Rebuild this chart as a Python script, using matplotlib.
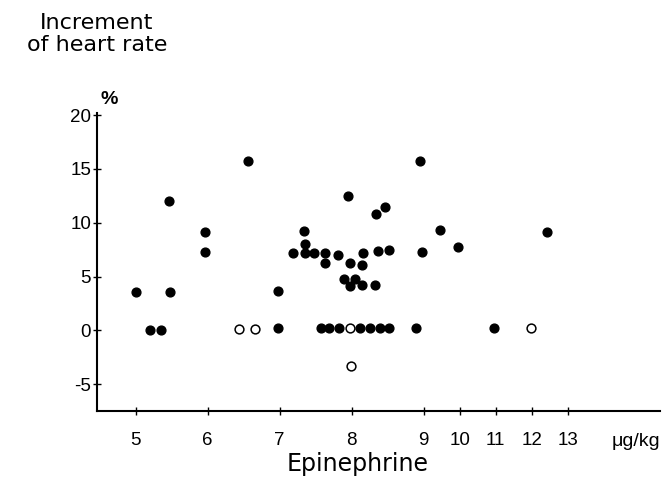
import matplotlib
matplotlib.use("Agg")
import matplotlib.pyplot as plt
import numpy as np

plt.rcParams['font.family'] = ['Liberation Sans', 'DejaVu Sans']

# filled dots: epinephrine dose (ug/kg) and heart rate increment (%)
dose_filled = [5.0, 5.2, 5.35, 5.47, 5.48, 5.96, 5.97, 6.56, 6.98, 6.98,
               7.34, 7.35, 7.19, 7.35, 7.48, 7.63, 7.63, 7.81, 7.95, 7.98,
               8.15, 8.16, 8.36, 8.46, 8.34, 8.52, 8.95, 8.97, 9.45, 9.94,
               7.90, 7.98, 8.05, 8.15, 8.32,
               7.57, 7.69, 7.82, 8.11, 8.26, 8.39, 8.52, 8.89, 10.96, 12.41]
incr_filled = [3.6, 0.0, 0.0, 12.0, 3.6, 9.15, 7.3, 15.7, 3.65, 0.2,
               9.2, 8.0, 7.2, 7.2, 7.15, 7.15, 6.25, 7.0, 12.5, 6.3,
               6.1, 7.15, 7.35, 11.5, 10.8, 7.45, 15.7, 7.25, 9.3, 7.7,
               4.75, 4.1, 4.75, 4.2, 4.25,
               0.2, 0.2, 0.2, 0.2, 0.2, 0.2, 0.2, 0.2, 0.2, 9.1]

# open circles
dose_open = [6.43, 6.66, 7.97, 7.99, 11.98]
incr_open = [0.1, 0.15, 0.2, -3.3, 0.2]

x_ticks = [5, 6, 7, 8, 9, 10, 11, 12, 13]
y_ticks = [-5, 0, 5, 10, 15, 20]


def fwd(x):
    x = np.asarray(x, dtype=float)
    return np.where(x <= 9, x, 9 + (x - 9) / 2)


def inv(y):
    y = np.asarray(y, dtype=float)
    return np.where(y <= 9, y, 9 + (y - 9) * 2)


fig = plt.figure(figsize=(6.69, 4.8), dpi=100)
ax = fig.add_axes([0.1445, 0.1437, 0.842, 0.621])
ax.set_xscale('function', functions=(fwd, inv))

ax.scatter(dose_filled, incr_filled, s=40, color='black', zorder=3)
ax.scatter(dose_open, incr_open, s=40, facecolor='white', edgecolor='black',
           linewidth=1.1, zorder=4)

ax.set_xlim(4.46, 15.56)
ax.set_ylim(-7.5, 20.2)
ax.set_xticks(x_ticks)
ax.set_xticklabels([str(t) for t in x_ticks])
ax.set_yticks(y_ticks)
ax.set_yticklabels([str(t) for t in y_ticks])
ax.minorticks_off()

for s in ['top', 'right']:
    ax.spines[s].set_visible(False)
for s in ['left', 'bottom']:
    ax.spines[s].set_linewidth(1.5)

ax.tick_params(axis='x', direction='inout', length=6, width=1, labelsize=13.5, pad=12)
ax.tick_params(axis='y', direction='inout', length=6, width=1, labelsize=13.5, pad=1)

fig.text(636 / 669, 1 - 441 / 480, 'μg/kg', ha='center', va='center', fontsize=14)
fig.text(97 / 669, 1 - 34 / 480, 'Increment\nof heart rate', ha='center', va='center',
         fontsize=16, linespacing=1.1, family='DejaVu Sans')
fig.text(109 / 669, 1 - 99 / 480, '%', ha='center', va='center', fontsize=14,
         fontweight='bold')
fig.text(358 / 669, 1 - 464 / 480, 'Epinephrine', ha='center', va='center',
         fontsize=17, family='DejaVu Sans')

fig.savefig('out.png', dpi=100)
